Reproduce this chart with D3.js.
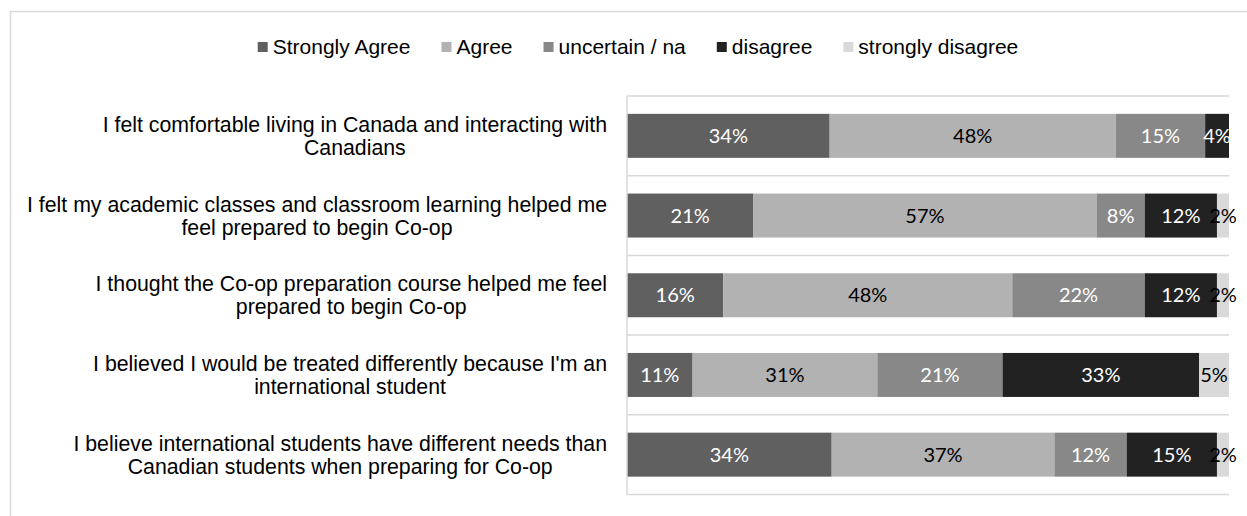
<!DOCTYPE html>
<html>
<head>
<meta charset="utf-8">
<script src="https://cdn.jsdelivr.net/npm/d3@7/dist/d3.min.js"></script>
<style>
  html, body { margin: 0; padding: 0; background: #fff; }
  svg { display: block; }
</style>
</head>
<body>
<svg id="chart" width="1247" height="516"></svg>
<script>
// Survey statements (label lines split with "\n")
const categories = [
  "I felt comfortable living in Canada and interacting with\nCanadians",
  "I felt my academic classes and classroom learning helped me\nfeel prepared to begin Co-op",
  "I thought the Co-op preparation course helped me feel\nprepared to begin Co-op",
  "I believed I would be treated differently because I'm an\ninternational student",
  "I believe international students have different needs than\nCanadian students when preparing for Co-op"
];

const seriesNames = ["Strongly Agree", "Agree", "uncertain / na", "disagree", "strongly disagree"];

// Percent of respondents per answer, one value per statement
const stronglyAgree    = [34, 21, 16, 11, 34];
const agree            = [48, 57, 48, 31, 37];
const uncertain        = [15, 8, 22, 21, 12];
const disagree         = [4, 12, 12, 33, 15];
const stronglyDisagree = [0, 2, 2, 5, 2];

const seriesValues = [stronglyAgree, agree, uncertain, disagree, stronglyDisagree];
const seriesColors = ["#606060", "#b2b2b2", "#888888", "#222222", "#d9d9d9"];
const labelColors  = ["#ffffff", "#000000", "#ffffff", "#ffffff", "#000000"];

const svg = d3.select("#chart");

// outer chart frame
svg.append("rect")
  .attr("x", 10.5).attr("y", 11.5)
  .attr("width", 1260).attr("height", 530)
  .attr("fill", "#fff").attr("stroke", "#d9d9d9").attr("stroke-width", 1.5);

const plot = { left: 627, right: 1229, top: 96, bottom: 494.5 };

const rows = categories.map((c, i) => {
  const r = { category: c };
  seriesNames.forEach((s, k) => { r[s] = seriesValues[k][i]; });
  return r;
});

// 100% stacked layout
const stacked = d3.stack().keys(seriesNames).offset(d3.stackOffsetExpand)(rows);

const x = d3.scaleLinear().domain([0, 1]).range([plot.left, plot.right]);
const pad = 0.448;
const y = d3.scaleBand().domain(categories)
  .range([plot.top, plot.bottom])
  .paddingInner(pad).paddingOuter(pad / 2);
const step = y.step();

// category separators
const bounds = d3.range(categories.length + 1).map(i => plot.top + i * step);
svg.append("g").selectAll("line").data(bounds).join("line")
  .attr("x1", plot.left).attr("x2", plot.right)
  .attr("y1", d => d).attr("y2", d => d)
  .attr("stroke", "#d9d9d9").attr("stroke-width", 1.5);

// bars
const layers = svg.append("g").selectAll("g").data(stacked).join("g")
  .attr("fill", (d, i) => seriesColors[i]);
layers.selectAll("rect").data(d => d).join("rect")
  .attr("x", d => x(d[0]))
  .attr("width", d => Math.max(0, x(d[1]) - x(d[0])))
  .attr("y", d => y(d.data.category))
  .attr("height", y.bandwidth());

// vertical axis line
svg.append("line")
  .attr("x1", plot.left).attr("x2", plot.left)
  .attr("y1", plot.top).attr("y2", plot.bottom)
  .attr("stroke", "#d9d9d9").attr("stroke-width", 1.5);

// value labels
const labelGroups = svg.append("g").selectAll("g").data(stacked).join("g")
  .attr("fill", (d, i) => labelColors[i]);
labelGroups.selectAll("text").data(d => d.map(v => ({ v, key: d.key }))).join("text")
  .filter(d => d.v.data[d.key] > 0)
  .attr("x", d => (x(d.v[0]) + x(d.v[1])) / 2)
  .attr("y", d => y(d.v.data.category) + y.bandwidth() / 2)
  .attr("dy", "0.36em")
  .attr("text-anchor", "middle")
  .attr("font-family", "Lato, 'Open Sans', sans-serif")
  .attr("font-size", 20)
  .text(d => d.v.data[d.key] + "%");

// category labels: each wrapped block sits against the axis, lines centred within it
const lineH = 23;
const labelRight = 607;
const catG = svg.append("g")
  .attr("font-family", "'Liberation Sans', Arial, sans-serif")
  .attr("font-size", 21.3).attr("fill", "#000");
categories.forEach(c => {
  const lines = c.split("\n");
  const cy = y(c) + y.bandwidth() / 2;
  const t = catG.append("text").attr("text-anchor", "middle");
  const spans = lines.map((ln, i) => t.append("tspan")
    .attr("y", cy + (i - (lines.length - 1) / 2) * lineH)
    .attr("dy", "0.35em")
    .text(ln));
  const maxW = d3.max(spans, s => s.node().getComputedTextLength());
  spans.forEach(s => s.attr("x", labelRight - maxW / 2));
});

// legend
const legend = svg.append("g")
  .attr("font-family", "'Liberation Sans', Arial, sans-serif")
  .attr("font-size", 21);
const marker = 10, mgap = 5, itemGap = 31;
let cx = 0;
seriesNames.forEach((s, i) => {
  const g = legend.append("g");
  g.append("rect").attr("x", 0).attr("y", -5).attr("width", marker).attr("height", marker)
    .attr("fill", seriesColors[i]);
  const tx = g.append("text").attr("x", marker + mgap).attr("dy", "0.35em").text(s);
  const w = marker + mgap + tx.node().getComputedTextLength();
  g.attr("transform", `translate(${cx},0)`);
  cx += w + itemGap;
});
const totalW = cx - itemGap;
legend.attr("transform", `translate(${638 - totalW / 2},47)`);
</script>
</body>
</html>
